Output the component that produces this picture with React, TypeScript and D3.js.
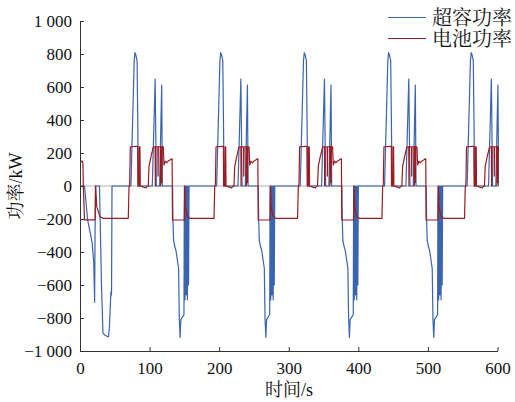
import React, { useRef, useEffect } from 'react';
import * as d3 from 'd3';

// rising edge of the battery power in each cycle (s)
const cycleStarts = [70.4, 193.6, 313.7, 434.9, 553.6];

// start-up part before the first cycle: [time s, power kW]
const ucStart: [number, number][] = [
    [0, 0], [6.5, 0], [11, -206], [15.8, -307], [17.5, -347], [19.8, -468], [21, -705], [22.1, 0],
    [28, 0], [30.9, -600], [33, -890], [35.9, -905], [40.9, -915], [42.4, -850], [43.8, -700],
    [44.6, -640], [45.3, -660], [46, 0],
];
const batStart: [number, number][] = [
    [0, 120], [1, 145], [3, 152], [4.2, 140], [4.8, 0], [6.5, -205], [21.8, -205], [22.6, 0],
    [24, -125], [28.7, -186], [33.5, -196],
];

// one drive cycle, time relative to the cycle start
const ucCycle: [number, number][] = [
    [2.8, 0], [7.5, 760], [8.6, 808], [9.8, 795], [11.6, 760], [12.6, 400], [13.5, 0],
    [33.5, 0], [37.6, 648], [39.3, 0],
    [44, 0], [47, 612], [48, 0],
    [62.6, 0], [63.2, -206], [64.1, -330], [66, -370], [67.5, -390], [71.3, -500], [72.3, -800],
    [73.5, -918], [74.5, -810], [79, -780], [79.6, 0], [80.5, -690], [81.3, 0], [82.2, -660],
    [83, 0], [84, -690], [84.8, 0], [85.6, -600], [86.3, 0],
];
const batCycle: [number, number][] = [
    [-1, -196], [0, -10], [1, 15], [1.9, 238], [11.1, 240], [12.5, 240], [12.8, 0], [14.4, 0],
    [14.8, 238], [15.8, 238], [16.2, 0], [20, -5], [24.4, -12], [26.6, 0], [27.7, 0], [28.7, 117],
    [31.6, 178], [34.9, 236], [37.6, 238], [37.9, 0], [38.4, 238], [41.5, 238], [41.8, 60],
    [42.2, 238], [45.2, 238], [45.5, 0], [46.3, 240], [47, 20], [47.5, 238], [49.3, 238],
    [50.3, 127], [52, 150], [54.2, 140], [56, 150], [58.9, 157], [61.5, 165], [62, 165],
    [62.5, -206], [79.5, -206], [80.2, 0], [80.9, -125], [84.2, -186], [87.5, -196],
];

const xTicks = [0, 100, 200, 300, 400, 500, 600];
const yTicks = [-1000, -800, -600, -400, -200, 0, 200, 400, 600, 800, 1000];
const seriesNames = ['超容功率', '电池功率'];
const colors = ['#3a64ad', '#9b1b20'];

function buildSeries(start: [number, number][], cycle: [number, number][]) {
    const pts = start.slice();
    cycleStarts.forEach(c => cycle.forEach(([t, v]) => pts.push([c + t, v])));
    return pts;
}

const font = "Liberation Serif, DejaVu Serif, Noto Serif CJK SC, serif";

function App() {
    const ref = useRef<SVGSVGElement>(null);

    useEffect(() => {
        const svg = d3.select(ref.current);
        svg.selectAll('*').remove();

        const left = 80, right = 497.5, top = 21, bottom = 351;
        const x = d3.scaleLinear().domain([0, 600]).range([left, right]);
        const y = d3.scaleLinear().domain([-1000, 1000]).range([bottom, top]);

        svg.append('defs').append('clipPath').attr('id', 'plot')
            .append('rect').attr('x', left).attr('y', 0).attr('width', right - left + 1.5).attr('height', 402);

        // zero line
        svg.append('line')
            .attr('x1', left).attr('x2', right)
            .attr('y1', y(0)).attr('y2', y(0))
            .attr('stroke', '#d9d9d9').attr('stroke-width', 2);

        const line = d3.line<[number, number]>().x(d => x(d[0])).y(d => y(d[1]));
        const series = [buildSeries(ucStart, ucCycle), buildSeries(batStart, batCycle)];
        const g = svg.append('g').attr('clip-path', 'url(#plot)');
        series.forEach((s, i) => {
            g.append('path').datum(s).attr('d', line).attr('fill', 'none')
                .attr('stroke', colors[i]).attr('stroke-width', 1.2).attr('stroke-linejoin', 'round');
        });

        // axes
        const ax = svg.append('g').attr('transform', `translate(0,${bottom})`)
            .call(d3.axisBottom(x).tickValues(xTicks).tickSizeInner(-4).tickSizeOuter(0).tickPadding(8));
        const ay = svg.append('g').attr('transform', `translate(${left},0)`)
            .call(d3.axisLeft(y).tickValues(yTicks).tickSizeInner(-4).tickSizeOuter(0).tickPadding(8)
                .tickFormat(d => {
                    const n = d as number;
                    const s = Math.abs(n) >= 1000 ? '1 000' : String(Math.abs(n));
                    return n < 0 ? '\u2212' + s : s;
                }));
        [ax, ay].forEach(a => {
            a.attr('font-family', font).attr('font-size', 17);
            a.select('.domain').attr('stroke', '#333');
            a.selectAll('.tick line').attr('stroke', '#333');
            a.selectAll('.tick text').attr('fill', '#111');
        });
        ax.selectAll('.tick text').attr('dy', '0.9em');

        svg.append('text')
            .attr('x', 289).attr('y', 396)
            .attr('text-anchor', 'middle')
            .attr('font-family', font).attr('font-size', 18).attr('fill', '#111')
            .text('时间/s');

        svg.append('text')
            .attr('transform', `translate(22,186) rotate(-90)`)
            .attr('text-anchor', 'middle')
            .attr('font-family', font).attr('font-size', 18).attr('fill', '#111')
            .text('功率/kW');

        // legend
        seriesNames.forEach((name, i) => {
            const ly = 17.5 + i * 21;
            svg.append('line').attr('x1', 388).attr('x2', 426).attr('y1', ly).attr('y2', ly)
                .attr('stroke', colors[i]).attr('stroke-width', 1.2);
            svg.append('text').attr('x', 432).attr('y', ly + 7)
                .attr('font-family', font).attr('font-size', 20).attr('fill', '#111')
                .text(name);
        });
    }, []);

    return (
        <svg ref={ref} width="515" height="402"
            style={{ position: 'absolute', left: 0, top: 0, background: '#fff' }} />
    );
}

export default App;
